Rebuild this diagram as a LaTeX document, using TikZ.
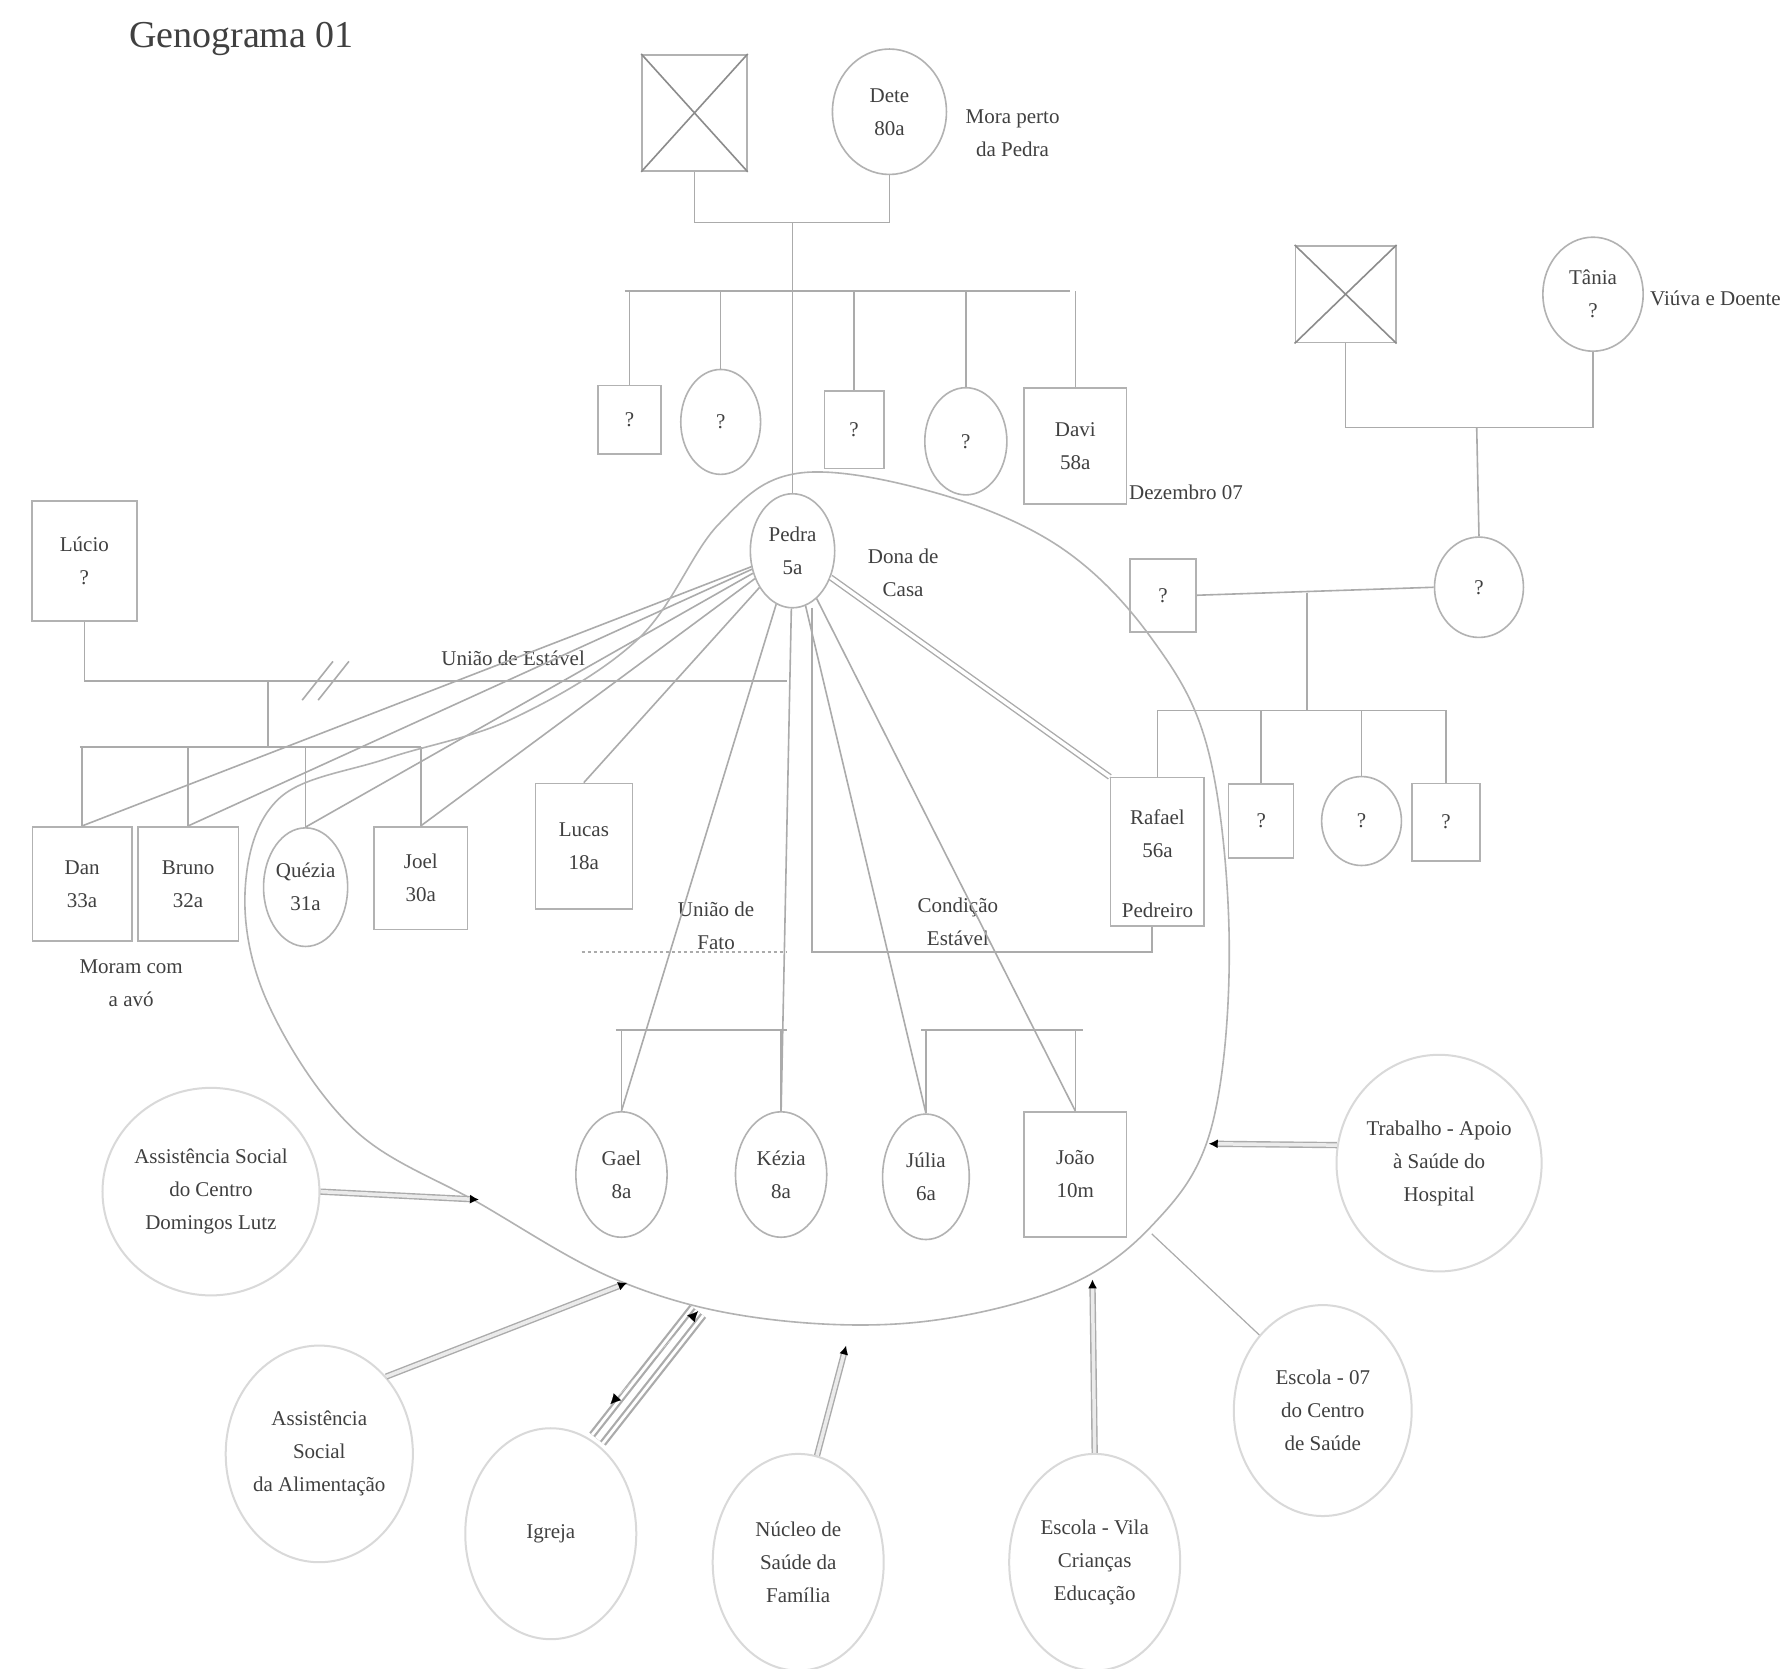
\documentclass[tikz,border=0pt]{standalone}
\usepackage{fontspec}
\setmainfont{Liberation Serif}
\usetikzlibrary{shapes.geometric,arrows.meta,calc}
\begin{document}
\begin{tikzpicture}[x=1.1403pt,y=-1.1403pt,
  ln/.style={draw=black!33, line width=1.6pt},
  fam/.style={draw=black!30, line width=1.6pt, inner sep=0pt, align=center, text=black!75, font=\fontsize{21}{33}\selectfont},
  sqn/.style 2 args={fam, rectangle, minimum width=#1*1.1403pt, minimum height=#2*1.1403pt},
  eln/.style 2 args={fam, ellipse, minimum width=#1*1.1403pt, minimum height=#2*1.1403pt},
  res/.style 2 args={ellipse, draw=black!15, line width=2pt, inner sep=0pt, align=center, text=black!75, font=\fontsize{21}{33}\selectfont, minimum width=#1*1.1403pt, minimum height=#2*1.1403pt},
  lbl/.style={inner sep=0pt, align=center, text=black!75, font=\fontsize{21}{33}\selectfont},
  dbl/.style={draw=black!33, double=black!8, double distance=3.5pt, line width=1.4pt},
  arr/.style={-{Latex[black,length=9pt,width=9pt]}},
  xmark/.style={draw=black!45, line width=1.6pt}
]
\useasboundingbox (0,0) rectangle (1568,1463);
\fill[white] (0,0) rectangle (1568,1463);

% title
\node[lbl, font=\fontsize{38}{40}\selectfont, anchor=west] (title) at (113,34) {Genograma 01};

% ---------- top generation ----------
\node[sqn={92}{102}] (gf) at (609,99) {};
\draw[xmark] (gf.north west) -- (gf.south east) (gf.north east) -- (gf.south west);
\node[eln={100}{110}] (gm) at (780,98) {Dete\\80a};
\node[lbl] (gmnote) at (888,117) {Mora perto\\da Pedra};
\coordinate (cpl1) at (695,195);
\draw[ln] (gf.south) |- (cpl1) -| (gm.south);

% siblings of Pedra
\node[sqn={55}{60}] (s1) at (552,368) {?};
\node[eln={70}{92}] (s2) at (632,370) {?};
\node[sqn={52}{68}] (s3) at (749,377) {?};
\node[eln={72}{94}] (s4) at (847,387) {?};
\node[sqn={90}{102}] (s5) at (943,391) {Davi\\58a};
\node[lbl, anchor=west] (s5note) at (990,432) {Dezembro 07};
\coordinate (sib) at (548,255);
\coordinate (sibr) at (938,255);
\draw[ln] (sib) -- (sibr);
\foreach \n in {s1,s2,s3,s4,s5} \draw[ln] (\n.north) -- (\n.north |- sib);

% Pedra
\node[eln={74}{100}] (pedra) at (695,483) {Pedra\\5a};
\node[lbl] (pedranote) at (792,502) {Dona de\\Casa};
\draw[ln] (cpl1) -- (pedra.north);

% ---------- right family ----------
\node[sqn={88}{85}] (rgf) at (1180,258) {};
\draw[xmark] (rgf.north west) -- (rgf.south east) (rgf.north east) -- (rgf.south west);
\node[eln={88}{100}] (rgm) at (1397,258) {Tânia\\?};
\node[lbl, anchor=west] (rgmnote) at (1447,262) {Viúva e Doente};
\coordinate (cpl2) at (1295,375);
\draw[ln] (rgf.south) |- (cpl2) -| (rgm.south);
\node[sqn={58}{64}] (rf) at (1020,522) {?};
\node[eln={78}{88}] (rm) at (1297,515) {?};
\draw[ln] (cpl2) -- (rm.north);
\draw[ln] (rf.east) -- (rm.west);
\coordinate (cpl3) at (1146,520);
\coordinate (sib3) at (1015,623);
\coordinate (sib3r) at (1268,623);
\draw[ln] (cpl3) -- (cpl3 |- sib3);
\draw[ln] (sib3) -- (sib3r);
\node[sqn={82}{130}] (rafael) at (1015,747) {};
\node[lbl] (rafname) at (1015,731) {Rafael\\56a};
\node[lbl] (rafnote) at (1015,798) {Pedreiro};
\node[sqn={57}{65}] (rs1) at (1106,720) {?};
\node[eln={70}{78}] (rs2) at (1194,720) {?};
\node[sqn={60}{68}] (rs3) at (1268,721) {?};
\foreach \n in {rafael,rs1,rs2,rs3} \draw[ln] (\n.north) -- (\n.north |- sib3);

% ---------- left family ----------
\node[sqn={92}{105}] (lucio) at (74,492) {Lúcio\\?};
\coordinate (uend) at (690,597);
\draw[ln] (lucio.south) |- (uend);
\draw[ln] (265,614) -- (292,580) (279,614) -- (306,580);
\node[lbl] (unlbl) at (450,577) {União de Estável};
\coordinate (cpl4) at (235,597);
\coordinate (sib4) at (70,655);
\coordinate (sib4r) at (369,655);
\draw[ln] (cpl4) -- (cpl4 |- sib4);
\draw[ln] (sib4) -- (sib4r);
\node[sqn={87}{100}] (c1) at (72,775) {Dan\\33a};
\node[sqn={88}{100}] (c2) at (165,775) {Bruno\\32a};
\node[eln={72}{104}] (c3) at (268,778) {Quézia\\31a};
\node[sqn={82}{90}] (c4) at (369,770) {Joel\\30a};
\foreach \n in {c1,c2,c3,c4} \draw[ln] (\n.north) -- (\n.north |- sib4);
\node[lbl] (c12note) at (115,862) {Moram com\\a avó};
\node[sqn={85}{110}] (lucas) at (512,742) {Lucas\\18a};

% rays from Pedra
\foreach \n in {c1,c2,c3,c4,lucas} \draw[ln] (pedra) -- (\n.north);

% household boundary
\draw[draw=black!30, line width=1.6pt] plot[smooth cycle, tension=0.6] coordinates {
 (700,415) (820,432) (930,480) (1010,560) (1060,660) (1078,830) (1062,990)
 (1010,1075) (930,1130) (800,1160) (660,1155) (540,1122) (420,1055) (310,990)
 (235,880) (215,780) (245,700) (340,665) (450,630) (560,560) (630,460)};

% union Pedra - Rafael
\coordinate (u1) at (712,533);
\coordinate (u2) at (712,835);
\coordinate (u3) at (1010,835);
\draw[ln] (u1) -- (u2) -- (u3) -- (rafael.south -| u3);
\draw[dbl, double=white] (pedra.-35) -- (rafael.north west);
\node[lbl] (ulbl1) at (628,812) {União de\\Fato};
\node[lbl] (ulbl2) at (840,808) {Condição\\Estável};
\draw[ln, dashed] (510,835) -- (690,835);

% young children
\node[eln={80}{110}] (g1) at (545,1030) {Gael\\8a};
\node[eln={80}{110}] (g2) at (685,1030) {Kézia\\8a};
\node[eln={76}{110}] (g3) at (812,1032) {Júlia\\6a};
\node[sqn={90}{110}] (g4) at (943,1030) {João\\10m};
\coordinate (sib5) at (540,903);
\coordinate (sib5r) at (690,903);
\coordinate (sib6) at (808,903);
\coordinate (sib6r) at (950,903);
\draw[ln] (sib5) -- (sib5r) (sib6) -- (sib6r);
\draw[ln] (g1.north) -- (g1.north |- sib5) (g2.north) -- (g2.north |- sib5);
\draw[ln] (g3.north) -- (g3.north |- sib6) (g4.north) -- (g4.north |- sib6);
\foreach \n in {g1,g2,g3,g4} \draw[ln] (pedra) -- (\n.north);

% ---------- resources ----------
\node[res={162}{182}] (r1) at (185,1045) {Assistência Social\\do Centro\\Domingos Lutz};
\node[res={152}{190}] (r2) at (280,1275) {Assistência\\Social\\da Alimentação};
\node[res={150}{185}] (r3) at (483,1345) {Igreja};
\node[res={150}{190}] (r4) at (700,1370) {Núcleo de\\Saúde da\\Família};
\node[res={150}{190}] (r5) at (960,1370) {Escola - Vila\\Crianças\\Educação};
\node[res={156}{185}] (r6) at (1160,1237) {Escola - 07\\do Centro\\de Saúde};
\node[res={162}{190}] (r7) at (1262,1020) {Trabalho - Apoio\\à Saúde do\\Hospital};

\coordinate (a1) at (420,1052);
\coordinate (a2) at (550,1125);
\coordinate (a3) at (612,1150);
\coordinate (a3b) at (524,1262);
\coordinate (a4) at (742,1180);
\coordinate (a5) at (958,1122);
\coordinate (a6) at (1010,1082);
\coordinate (a7) at (1060,1003);

\draw[dbl, arr] (r1.east) -- (a1);
\draw[dbl, arr] (r2.north east) -- (a2);
\draw[draw=black!33, line width=21pt] (a3b) -- (a3);
\draw[draw=white, line width=16.5pt] (a3b) -- (a3);
\draw[draw=black!33, line width=10.5pt] (a3b) -- (a3);
\draw[draw=white, line width=6pt] (a3b) -- (a3);
\draw[draw=white, line width=0.1pt, {Latex[black,length=10pt,width=10pt]}-{Latex[black,length=10pt,width=10pt]}] ($(a3b)!0.22!(a3)+(-8,-6)$) -- (a3);
\draw[dbl, arr] (r4.80) -- (a4);
\draw[dbl, arr] (r5.north) -- (a5);
\draw[ln, line width=1.2pt] (r6.130) -- (a6);
\draw[dbl, arr] (r7.170) -- (a7);
\end{tikzpicture}
\end{document}
